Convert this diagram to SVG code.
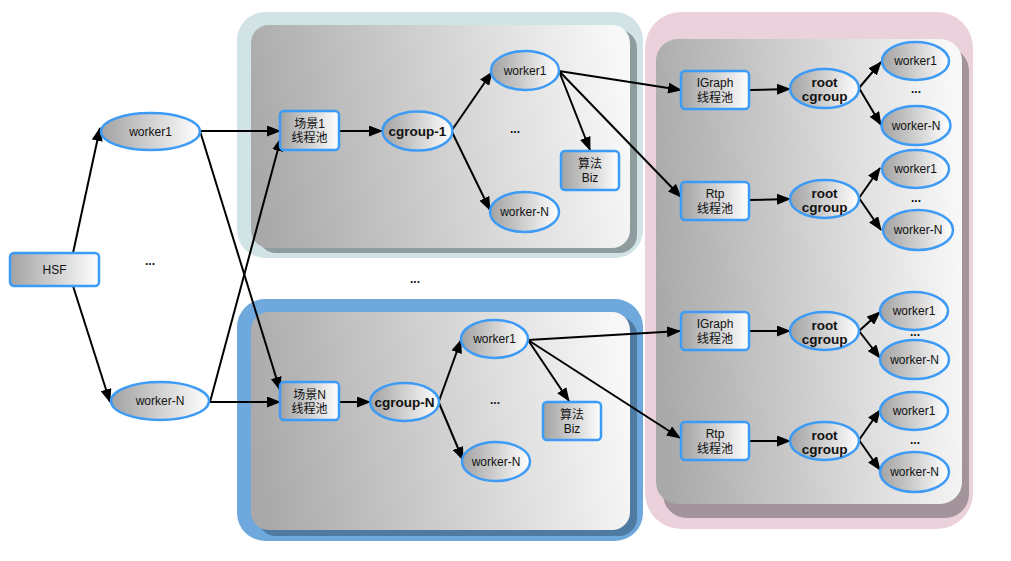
<svg xmlns="http://www.w3.org/2000/svg" width="1011" height="561" viewBox="0 0 1011 561">
<defs>
<linearGradient id="ng" x1="0" y1="0" x2="1" y2="0">
<stop offset="0" stop-color="#a2a2a2"/>
<stop offset="1" stop-color="#ffffff"/>
</linearGradient>
<linearGradient id="pg" x1="0" y1="0.55" x2="1" y2="0.45">
<stop offset="0" stop-color="#a9a9a9"/>
<stop offset="1" stop-color="#f8f8f8"/>
</linearGradient>
<marker id="arr" markerWidth="14" markerHeight="11" refX="13" refY="5.5" orient="auto" markerUnits="userSpaceOnUse">
<path d="M0,0 L14,5.5 L0,11 z" fill="#000"/>
</marker>
</defs>
<style>
.n{fill:url(#ng);stroke:#3d9bf5;stroke-width:2.5}
.t{font-family:"Liberation Sans","Noto Sans CJK SC",Arial,sans-serif;font-size:12px;fill:#111;text-anchor:middle}
.b{font-weight:bold;font-size:13.5px}
.d{font-family:"Liberation Sans",Arial,sans-serif;font-size:12px;font-weight:bold;fill:#111;text-anchor:middle}
.c line{stroke:#000;stroke-width:2;marker-end:url(#arr)}
.panel{fill:url(#pg)}
</style>
<rect width="1011" height="561" fill="#ffffff"/>

<g id="cluster-1">
<rect x="237" y="12" width="406" height="246" rx="28" fill="#d2e3e6"/>
<rect x="258" y="30" width="379" height="223" rx="18" fill="#8e9c9e"/>
<rect class="panel" x="251" y="25" width="379" height="223" rx="18"/>
</g>
<g id="cluster-n">
<rect x="237" y="299" width="406" height="242" rx="28" fill="#6fa8dc"/>
<rect x="258" y="317" width="379" height="219" rx="18" fill="#4f7ba2"/>
<rect class="panel" x="251" y="312" width="379" height="218" rx="18"/>
</g>
<g id="cluster-root">
<rect x="645" y="12" width="328" height="517" rx="36" fill="#ebd1dc"/>
<rect x="663" y="47" width="306" height="471" rx="24" fill="#a3939a"/>
<rect class="panel" x="656" y="39" width="306" height="465" rx="22"/>
</g>

<g class="c" id="connectors">
<line x1="73" y1="253" x2="100" y2="128"/>
<line x1="73" y1="286" x2="110" y2="402"/>
<line x1="200" y1="131" x2="280" y2="131"/>
<line x1="200" y1="131" x2="280" y2="390"/>
<line x1="210" y1="402" x2="280" y2="402"/>
<line x1="210" y1="402" x2="281" y2="138"/>
<line x1="339" y1="131" x2="382" y2="131"/>
<line x1="452" y1="130" x2="492" y2="72"/>
<line x1="452" y1="132" x2="490" y2="210"/>
<line x1="559" y1="71" x2="590" y2="150"/>
<line x1="559" y1="71" x2="681" y2="90"/>
<line x1="559" y1="71" x2="681" y2="197"/>
<line x1="339" y1="402" x2="370" y2="402"/>
<line x1="439" y1="401" x2="461" y2="340"/>
<line x1="439" y1="403" x2="463" y2="460"/>
<line x1="528" y1="340" x2="569" y2="401"/>
<line x1="528" y1="340" x2="680" y2="331"/>
<line x1="528" y1="340" x2="680" y2="438"/>
<line x1="749" y1="90" x2="790" y2="89"/>
<line x1="859" y1="88" x2="881" y2="62"/>
<line x1="859" y1="88" x2="881" y2="125"/>
<line x1="749" y1="200" x2="790" y2="199"/>
<line x1="859" y1="198" x2="880" y2="168"/>
<line x1="859" y1="198" x2="881" y2="230"/>
<line x1="749" y1="331" x2="790" y2="331"/>
<line x1="859" y1="331" x2="880" y2="312"/>
<line x1="859" y1="331" x2="880" y2="358"/>
<line x1="749" y1="441" x2="790" y2="441"/>
<line x1="859" y1="440" x2="880" y2="410"/>
<line x1="859" y1="440" x2="880" y2="470"/>
</g>

<g id="hsf"><rect class="n" x="10" y="253" width="89" height="33" rx="4"/><text class="t" x="54.5" y="274">HSF</text></g>
<g id="worker1"><ellipse class="n" cx="150.5" cy="131.5" rx="49.5" ry="18.5"/><text class="t" x="150.5" y="135.5">worker1</text></g>
<g id="workerN"><ellipse class="n" cx="160" cy="401" rx="49" ry="19"/><text class="t" x="160" y="405">worker-N</text></g>
<text class="d" x="150" y="265">...</text>
<text class="d" x="415" y="283">...</text>

<g id="scene1"><rect class="n" x="280" y="111" width="59" height="39" rx="4"/><text class="t" x="309.5" y="128">场景1</text><text class="t" x="309.5" y="142">线程池</text></g>
<g id="cgroup1"><ellipse class="n" cx="417.5" cy="131" rx="35" ry="19.5"/><text class="t b" x="417.5" y="136">cgroup-1</text></g>
<g id="c1-worker1"><ellipse class="n" cx="525" cy="70.5" rx="34" ry="19.5"/><text class="t" x="525" y="74.5">worker1</text></g>
<g id="c1-workerN"><ellipse class="n" cx="524.5" cy="212" rx="34.5" ry="20"/><text class="t" x="524.5" y="216">worker-N</text></g>
<g id="c1-biz"><rect class="n" x="561" y="151" width="58" height="39" rx="4"/><text class="t" x="590" y="168">算法</text><text class="t" x="590" y="182">Biz</text></g>
<text class="d" x="515" y="133">...</text>

<g id="sceneN"><rect class="n" x="280" y="382" width="59" height="38" rx="4"/><text class="t" x="309.5" y="398.5">场景N</text><text class="t" x="309.5" y="412.5">线程池</text></g>
<g id="cgroupN"><ellipse class="n" cx="404.5" cy="402" rx="34.5" ry="19"/><text class="t b" x="404.5" y="407">cgroup-N</text></g>
<g id="cN-worker1"><ellipse class="n" cx="494.5" cy="339" rx="33.5" ry="19"/><text class="t" x="494.5" y="343">worker1</text></g>
<g id="cN-workerN"><ellipse class="n" cx="496" cy="461.5" rx="34" ry="19.5"/><text class="t" x="496" y="465.5">worker-N</text></g>
<g id="cN-biz"><rect class="n" x="543" y="402" width="58" height="38" rx="4"/><text class="t" x="572" y="418.5">算法</text><text class="t" x="572" y="432.5">Biz</text></g>
<text class="d" x="495" y="404">...</text>

<g id="igraph1"><rect class="n" x="681" y="71" width="68" height="38" rx="4"/><text class="t" x="715" y="87">IGraph</text><text class="t" x="715" y="102">线程池</text></g>
<g id="root1"><ellipse class="n" cx="824.5" cy="88.5" rx="34.5" ry="19.5"/><text class="t b" x="824.5" y="87">root</text><text class="t b" x="824.5" y="101">cgroup</text></g>
<g id="r1-worker1"><ellipse class="n" cx="915.5" cy="61" rx="33.5" ry="19"/><text class="t" x="915.5" y="65">worker1</text></g>
<g id="r1-workerN"><ellipse class="n" cx="916" cy="125.5" rx="34.5" ry="19.5"/><text class="t" x="916" y="129.5">worker-N</text></g>
<text class="d" x="916" y="93">...</text>

<g id="rtp2"><rect class="n" x="681" y="182" width="68" height="38" rx="4"/><text class="t" x="715" y="198">Rtp</text><text class="t" x="715" y="213">线程池</text></g>
<g id="root2"><ellipse class="n" cx="824.5" cy="199" rx="34.5" ry="19"/><text class="t b" x="824.5" y="197.5">root</text><text class="t b" x="824.5" y="211.5">cgroup</text></g>
<g id="r2-worker1"><ellipse class="n" cx="915.5" cy="169" rx="33.5" ry="19"/><text class="t" x="915.5" y="173">worker1</text></g>
<g id="r2-workerN"><ellipse class="n" cx="918" cy="230" rx="35" ry="20"/><text class="t" x="918" y="234">worker-N</text></g>
<text class="d" x="916" y="202">...</text>

<g id="igraph3"><rect class="n" x="681" y="312" width="68" height="38" rx="4"/><text class="t" x="715" y="328">IGraph</text><text class="t" x="715" y="343">线程池</text></g>
<g id="root3"><ellipse class="n" cx="824.5" cy="331" rx="34.5" ry="19"/><text class="t b" x="824.5" y="329.5">root</text><text class="t b" x="824.5" y="343.5">cgroup</text></g>
<g id="r3-worker1"><ellipse class="n" cx="914" cy="311" rx="34" ry="19"/><text class="t" x="914" y="315">worker1</text></g>
<g id="r3-workerN"><ellipse class="n" cx="914.5" cy="359.5" rx="34.5" ry="19.5"/><text class="t" x="914.5" y="363.5">worker-N</text></g>
<text class="d" x="915" y="336">...</text>

<g id="rtp4"><rect class="n" x="681" y="422" width="68" height="38" rx="4"/><text class="t" x="715" y="438">Rtp</text><text class="t" x="715" y="453">线程池</text></g>
<g id="root4"><ellipse class="n" cx="824.5" cy="441" rx="34.5" ry="19"/><text class="t b" x="824.5" y="439.5">root</text><text class="t b" x="824.5" y="453.5">cgroup</text></g>
<g id="r4-worker1"><ellipse class="n" cx="914" cy="411" rx="34" ry="19"/><text class="t" x="914" y="415">worker1</text></g>
<g id="r4-workerN"><ellipse class="n" cx="914.5" cy="472" rx="34.5" ry="20"/><text class="t" x="914.5" y="476">worker-N</text></g>
<text class="d" x="915" y="444">...</text>
</svg>
